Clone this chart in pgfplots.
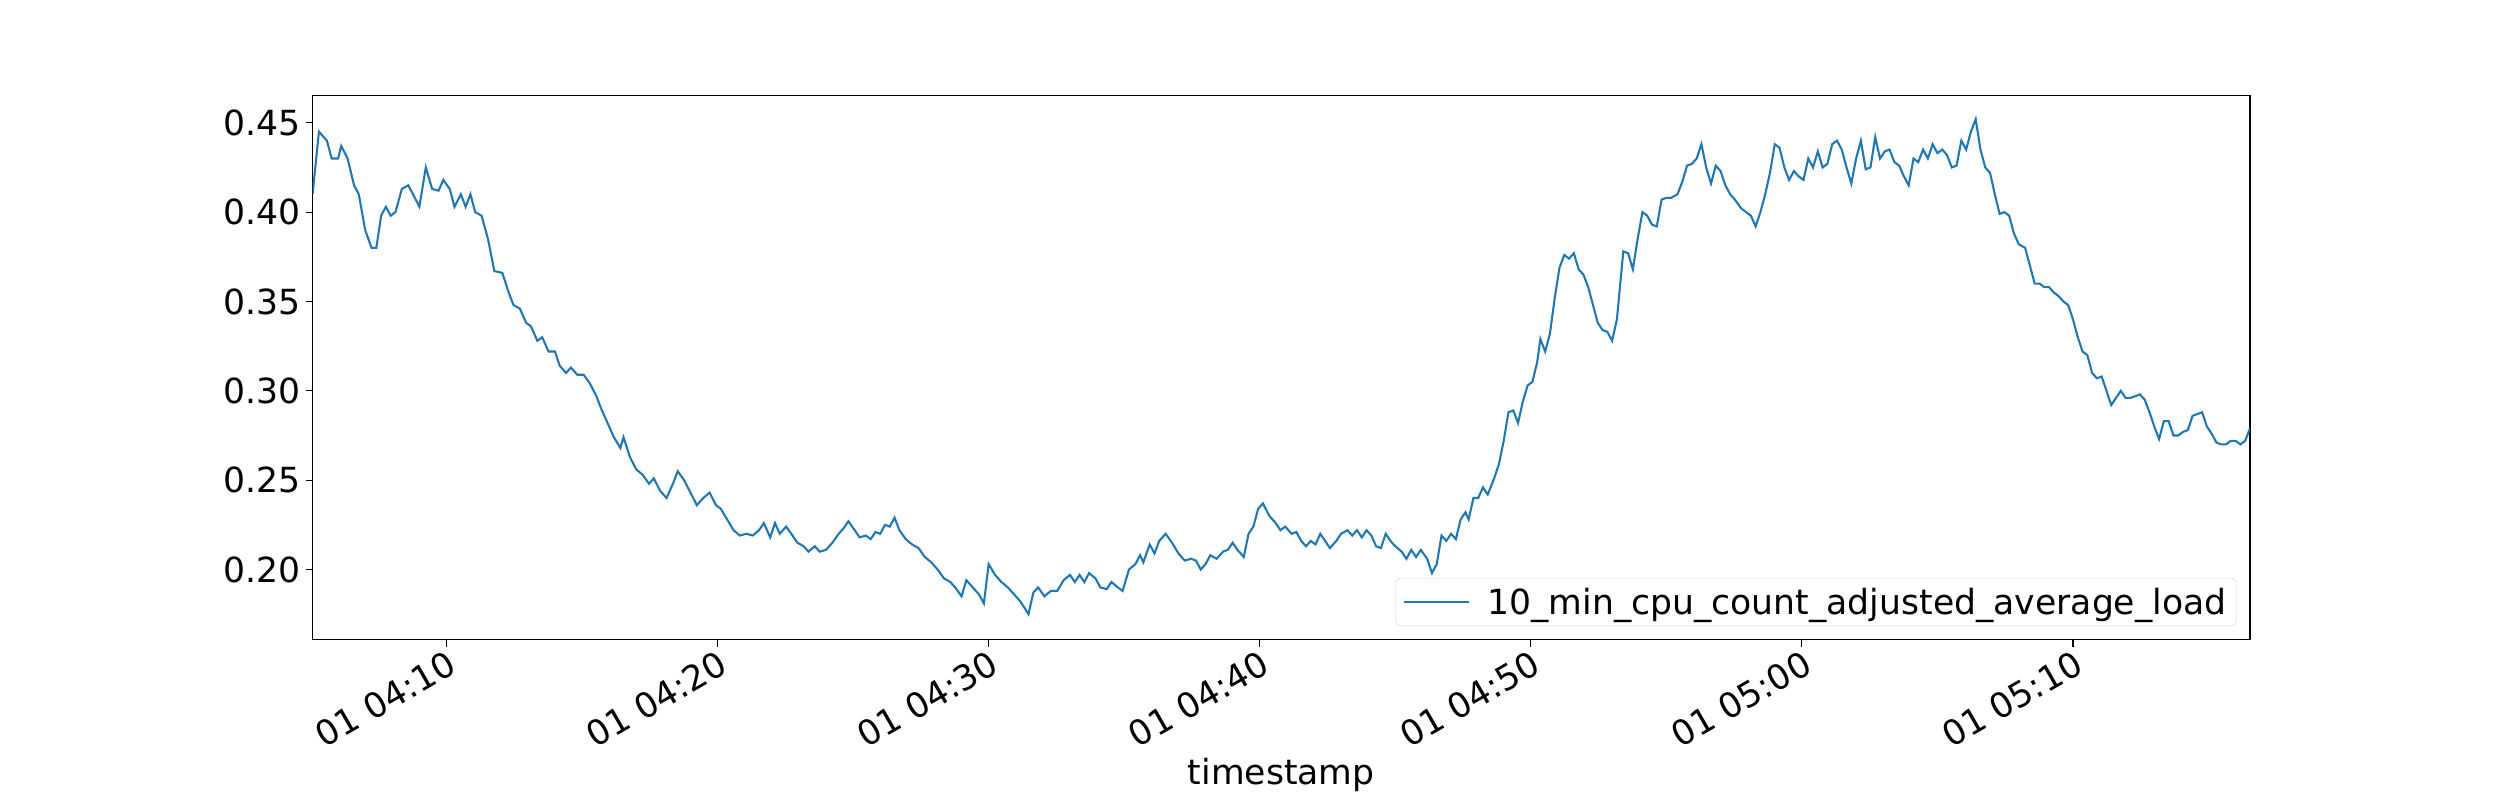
\documentclass[border=0pt]{standalone}
\usepackage{pgfplots}
\pgfplotsset{compat=1.18}
\usepackage{pgfplotstable}
\usepackage{fontspec}
\setmainfont{DejaVu Sans}
\usetikzlibrary{calc}
\definecolor{mplblue}{HTML}{1F77B4}
\pgfplotstableread{
px v
196 0.41
200 0.445
205 0.44
208 0.43
212 0.43
214 0.437
218 0.43
222 0.415
225 0.41
229 0.39
233 0.38
236 0.38
239 0.398
242 0.403
245 0.398
248 0.40
252 0.413
256 0.415
259 0.41
263 0.403
267 0.425
271 0.413
275 0.412
278 0.418
282 0.413
285 0.403
289 0.41
292 0.403
295 0.41
298 0.40
302 0.398
306 0.385
310 0.367
315 0.366
319 0.355
322 0.348
326 0.346
330 0.338
333 0.336
337 0.328
340 0.33
344 0.322
348 0.322
351 0.314
355 0.31
358 0.313
362 0.309
366 0.309
370 0.304
374 0.297
377 0.29
381 0.282
385 0.274
389 0.268
391 0.274
395 0.263
399 0.256
403 0.253
407 0.248
410 0.251
414 0.244
418 0.24
422 0.248
425 0.255
429 0.25
433 0.243
437 0.236
441 0.24
445 0.243
449 0.236
452 0.234
456 0.228
460 0.222
464 0.219
468 0.22
472 0.219
476 0.222
479 0.226
483 0.218
486 0.226
489 0.22
493 0.224
497 0.219
500 0.215
504 0.213
507 0.21
511 0.213
514 0.21
518 0.211
522 0.215
526 0.22
529 0.223
532 0.227
536 0.222
539 0.218
543 0.219
546 0.217
549 0.221
552 0.22
555 0.225
558 0.224
561 0.229
564 0.222
568 0.217
572 0.214
576 0.212
580 0.207
584 0.204
588 0.2
592 0.195
596 0.193
599 0.19
603 0.185
606 0.194
610 0.19
614 0.186
617 0.181
620 0.203
624 0.197
628 0.193
632 0.19
636 0.186
640 0.182
645 0.175
648 0.187
651 0.19
655 0.185
659 0.188
663 0.188
667 0.194
671 0.197
674 0.193
677 0.197
680 0.193
683 0.198
687 0.195
690 0.19
694 0.189
697 0.193
701 0.19
704 0.188
708 0.2
712 0.203
715 0.208
717 0.204
721 0.214
724 0.209
727 0.216
731 0.22
735 0.215
739 0.209
743 0.205
747 0.206
750 0.205
753 0.2
756 0.203
759 0.208
763 0.206
767 0.21
770 0.211
773 0.215
776 0.211
780 0.207
783 0.22
786 0.224
789 0.234
792 0.237
796 0.23
800 0.226
803 0.222
806 0.224
810 0.22
813 0.221
816 0.216
819 0.213
822 0.216
825 0.214
828 0.22
831 0.216
834 0.212
838 0.216
841 0.22
845 0.222
848 0.219
851 0.222
854 0.218
857 0.222
860 0.219
863 0.213
866 0.212
869 0.22
872 0.216
875 0.213
879 0.21
882 0.206
885 0.211
888 0.207
891 0.211
895 0.206
898 0.198
901 0.203
904 0.219
907 0.216
910 0.22
913 0.217
916 0.228
919 0.232
921 0.228
924 0.24
927 0.24
930 0.246
933 0.242
937 0.251
940 0.259
943 0.272
946 0.288
949 0.289
952 0.282
955 0.294
958 0.303
961 0.305
964 0.316
966 0.329
969 0.322
972 0.332
975 0.352
978 0.369
981 0.376
984 0.374
987 0.377
990 0.368
993 0.365
996 0.358
999 0.348
1002 0.338
1005 0.334
1008 0.333
1011 0.328
1014 0.34
1018 0.378
1021 0.377
1024 0.368
1027 0.385
1030 0.4
1033 0.398
1036 0.393
1039 0.392
1042 0.407
1045 0.408
1048 0.408
1052 0.41
1055 0.417
1058 0.426
1061 0.427
1064 0.43
1067 0.438
1070 0.425
1073 0.416
1076 0.426
1079 0.423
1082 0.415
1085 0.41
1088 0.407
1092 0.402
1095 0.4
1098 0.398
1101 0.392
1104 0.4
1107 0.41
1110 0.422
1113 0.438
1116 0.436
1119 0.425
1122 0.418
1125 0.423
1128 0.42
1131 0.418
1134 0.43
1137 0.425
1140 0.434
1143 0.425
1146 0.427
1149 0.438
1152 0.44
1155 0.435
1158 0.425
1161 0.416
1164 0.43
1167 0.44
1170 0.424
1173 0.425
1176 0.442
1179 0.43
1182 0.434
1185 0.435
1188 0.428
1191 0.426
1194 0.42
1197 0.415
1200 0.43
1203 0.428
1206 0.435
1209 0.43
1212 0.438
1215 0.433
1218 0.435
1221 0.432
1224 0.425
1227 0.426
1230 0.44
1233 0.435
1236 0.445
1239 0.452
1242 0.435
1245 0.425
1248 0.422
1251 0.41
1254 0.399
1257 0.4
1260 0.398
1263 0.388
1266 0.382
1270 0.38
1273 0.37
1276 0.36
1279 0.36
1282 0.358
1285 0.358
1288 0.355
1291 0.353
1294 0.35
1297 0.348
1300 0.34
1303 0.33
1306 0.322
1309 0.32
1312 0.31
1315 0.307
1318 0.308
1321 0.3
1324 0.292
1327 0.296
1330 0.3
1333 0.296
1336 0.296
1339 0.297
1342 0.298
1345 0.295
1348 0.288
1351 0.28
1354 0.273
1357 0.283
1360 0.283
1363 0.275
1366 0.275
1369 0.277
1372 0.278
1375 0.286
1378 0.287
1381 0.288
1384 0.28
1387 0.276
1390 0.271
1393 0.27
1396 0.27
1399 0.272
1402 0.272
1405 0.27
1408 0.272
1411 0.279
}\data
\begin{document}
\begin{tikzpicture}
\begin{axis}[
  name=ax,
  width=19.37in, height=5.44in, scale only axis,
  xmin=196, xmax=1411, ymin=0.1607, ymax=0.4652,
  xtick={280,450,620,790,960,1130,1300},
  xticklabels={01 04:10,01 04:20,01 04:30,01 04:40,01 04:50,01 05:00,01 05:10},
  xticklabel style={rotate=30, anchor=north east, inner sep=1pt},
  ytick={0.20,0.25,0.30,0.35,0.40,0.45},
  yticklabel style={/pgf/number format/fixed, /pgf/number format/fixed zerofill, /pgf/number format/precision=2},
  /pgf/number format/assume math mode=true,
  tick label style={font=\fontsize{25}{30}\selectfont},
  label style={font=\fontsize{25}{30}\selectfont},
  xlabel={timestamp},
  xlabel style={yshift=-2pt},
  tick align=outside, tick pos=lower,
  major tick length=0.07in,
  axis line style={line width=0.8pt},
  every tick/.style={black, line width=0.8pt},
  legend style={at={(0.993,0.025)}, anchor=south east, font=\fontsize{25}{30}\selectfont,
    draw=gray!30, rounded corners=3pt, inner sep=5pt},
  legend image code/.code={\draw[#1] (0cm,0cm) -- (0.65in,0cm);},
  legend cell align=left,
]
\addplot[mplblue, line width=1.5pt] table[x=px,y=v]{\data};
\addlegendentry{\hspace{0.15in}10\_min\_cpu\_count\_adjusted\_average\_load}
\end{axis}
\path[use as bounding box] ($(ax.south west)+(-3.125in,-1.61in)$) rectangle ($(ax.north east)+(2.5in,0.956in)$);
\end{tikzpicture}
\end{document}
